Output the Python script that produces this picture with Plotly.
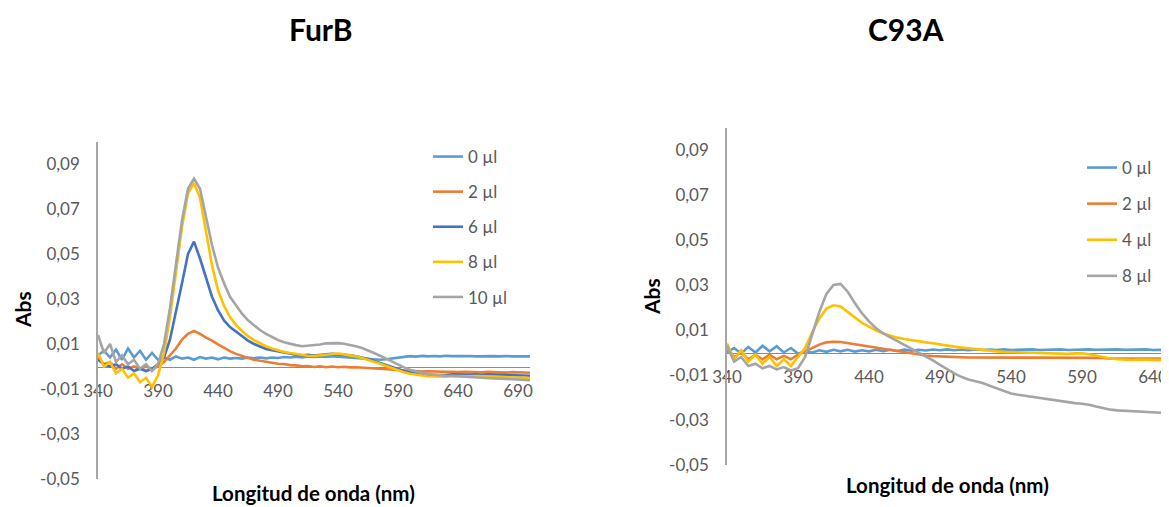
import plotly.graph_objects as go

# ---------------- data ----------------
wl_furb = list(range(340, 705, 5))
furb_0 = [0.005, 0.007, 0.004, 0.0075, 0.003, 0.008, 0.004, 0.007, 0.003, 0.006, 0.003, 0.004, 0.003, 0.0045,
          0.0035, 0.004, 0.003, 0.0042, 0.0035, 0.004, 0.0032, 0.004, 0.0035, 0.0038, 0.0035, 0.004, 0.0037,
          0.004, 0.0036, 0.004, 0.0038, 0.0042, 0.004, 0.0044, 0.004, 0.0045, 0.0042, 0.0045, 0.0043, 0.0046,
          0.0044, 0.0042, 0.004, 0.0038, 0.0036, 0.0034, 0.0032, 0.003, 0.0032, 0.0036, 0.004, 0.0044, 0.0046,
          0.0044, 0.0047, 0.0045, 0.0047, 0.0045, 0.0048, 0.0046, 0.0047, 0.0045, 0.0047, 0.0045, 0.0046,
          0.0044, 0.0046, 0.0045, 0.0047, 0.0045, 0.0046, 0.0044, 0.0045]
furb_2 = [0.004, 0.001, 0.002, -0.001, 0.001, -0.001, 0.0, -0.001, 0.0, -0.001, 0.0, 0.002, 0.005, 0.008,
          0.012, 0.0145, 0.0158, 0.0145, 0.0128, 0.0115, 0.0098, 0.0082, 0.0068, 0.0056, 0.0046, 0.0038,
          0.003, 0.0025, 0.0019, 0.0017, 0.0012, 0.0011, 0.0006, 0.0005, 0.0001, 0.0002, -0.0002, 0.0001,
          -0.0003, 0.0, -0.0003, -0.0001, -0.0004, -0.0003, -0.0005, -0.0004, -0.0007, -0.0008, -0.001,
          -0.0012, -0.0015, -0.0017, -0.0019, -0.002, -0.0022, -0.0021, -0.0023, -0.0022, -0.0024, -0.0023,
          -0.0025, -0.0023, -0.0025, -0.0024, -0.0026, -0.0024, -0.0026, -0.0025, -0.0027, -0.0025, -0.0027,
          -0.0026, -0.0028]
furb_6 = [0.003, 0.001, 0.0, 0.001, -0.001, 0.0, -0.002, -0.001, -0.002, -0.001, 0.001, 0.004, 0.012,
          0.024, 0.037, 0.05, 0.0555, 0.048, 0.039, 0.031, 0.025, 0.0205, 0.0175, 0.0155, 0.0135, 0.0115,
          0.01, 0.0088, 0.0078, 0.0072, 0.0067, 0.006, 0.0056, 0.0052, 0.005, 0.0052, 0.0049, 0.0053, 0.0054,
          0.0056, 0.0055, 0.0052, 0.005, 0.0045, 0.004, 0.0033, 0.0024, 0.0015, 0.0006, -0.0004, -0.0013,
          -0.002, -0.0027, -0.0032, -0.0036, -0.0038, -0.0039, -0.0037, -0.0038, -0.0035, -0.0036, -0.0034,
          -0.0036, -0.0035, -0.0037, -0.0035, -0.0036, -0.0037, -0.0039, -0.0038, -0.004, -0.0039, -0.0041]
furb_8 = [0.006, 0.0, 0.002, -0.003, -0.001, -0.005, -0.003, -0.007, -0.005, -0.009, -0.004, 0.006, 0.022,
          0.042, 0.062, 0.077, 0.0815, 0.075, 0.06, 0.045, 0.034, 0.027, 0.022, 0.0185, 0.0158, 0.0135,
          0.0117, 0.0102, 0.009, 0.008, 0.0072, 0.0065, 0.006, 0.0055, 0.005, 0.0048, 0.0047, 0.005, 0.0055,
          0.0058, 0.0058, 0.0054, 0.005, 0.0045, 0.0038, 0.003, 0.0022, 0.0012, 0.0002, -0.0008, -0.0018,
          -0.0026, -0.0032, -0.0037, -0.004, -0.0043, -0.0044, -0.0043, -0.0045, -0.0042, -0.0043, -0.0041,
          -0.0043, -0.0042, -0.0044, -0.0043, -0.0045, -0.0046, -0.0048, -0.0047, -0.005, -0.0049, -0.0051]
furb_10 = [0.014, 0.006, 0.01, 0.002, 0.005, 0.001, 0.003, -0.001, 0.001, -0.002, 0.001, 0.01, 0.026,
           0.046, 0.065, 0.079, 0.0835, 0.079, 0.067, 0.054, 0.044, 0.037, 0.031, 0.027, 0.0235, 0.0205,
           0.0182, 0.0162, 0.0145, 0.013, 0.0118, 0.0108, 0.01, 0.0095, 0.009, 0.0092, 0.0095, 0.0098,
           0.0103, 0.0105, 0.0104, 0.0101, 0.0096, 0.009, 0.0082, 0.0072, 0.006, 0.0048, 0.0035, 0.0021,
           0.0008, -0.0004, -0.0014, -0.0022, -0.0029, -0.0034, -0.0037, -0.004, -0.0041, -0.0042, -0.0044,
           -0.0045, -0.0047, -0.0048, -0.005, -0.0051, -0.0053, -0.0054, -0.0056, -0.0057, -0.0058, -0.006,
           -0.0061]

wl_c93a = list(range(340, 660, 5))
c93a_0 = [0.0, 0.002, -0.0005, 0.0025, 0.0, 0.003, 0.0005, 0.0028, 0.0, 0.002, -0.0005, 0.0005, 0.0, 0.001,
          0.0003, 0.0012, 0.0005, 0.0012, 0.0004, 0.001, 0.0005, 0.0012, 0.0006, 0.0012, 0.0007, 0.0013,
          0.0008, 0.0012, 0.0009, 0.0013, 0.001, 0.0014, 0.001, 0.0013, 0.001, 0.0014, 0.0011, 0.0013,
          0.0011, 0.0014, 0.0011, 0.0013, 0.0012, 0.0014, 0.0011, 0.0013, 0.0012, 0.0014, 0.0011, 0.0013,
          0.0012, 0.0014, 0.0012, 0.0013, 0.0011, 0.0014, 0.0012, 0.0013, 0.0012, 0.0014, 0.0011, 0.0013,
          0.0012, 0.0013]
c93a_2 = [0.002, -0.002, 0.0, -0.003, -0.001, -0.003, -0.001, -0.003, -0.0015, -0.003, -0.001, 0.0005,
          0.0022, 0.0035, 0.0045, 0.0048, 0.0047, 0.0042, 0.0036, 0.003, 0.0026, 0.0021, 0.0016, 0.0011,
          0.0006, 0.0001, -0.0004, -0.0009, -0.0013, -0.0016, -0.0018, -0.002, -0.0021, -0.0021, -0.0022,
          -0.0022, -0.0023, -0.0023, -0.0024, -0.0023, -0.0024, -0.0025, -0.0024, -0.0025, -0.0024, -0.0025,
          -0.0025, -0.0024, -0.0025, -0.0024, -0.0023, -0.0022, -0.0022, -0.0024, -0.0027, -0.0027, -0.0028,
          -0.0027, -0.0028, -0.0027, -0.0028, -0.0027, -0.0028, -0.0027]
c93a_4 = [0.004, -0.003, 0.001, -0.004, -0.001, -0.005, -0.002, -0.006, -0.003, -0.006, -0.002, 0.002,
          0.009, 0.015, 0.0195, 0.021, 0.0205, 0.018, 0.0155, 0.0132, 0.0115, 0.0098, 0.0085, 0.0074,
          0.0066, 0.006, 0.0054, 0.0049, 0.0045, 0.0041, 0.0035, 0.003, 0.0026, 0.0022, 0.0018, 0.0014,
          0.0011, 0.0008, 0.0005, 0.0003, 0.0002, 0.0001, 0.0, -0.0001, -0.0002, -0.0004, -0.0005, -0.0006,
          -0.0006, -0.0004, -0.0003, -0.0008, -0.0015, -0.0022, -0.0027, -0.003, -0.0032, -0.0033, -0.0031,
          -0.0033, -0.0032, -0.0034, -0.0033, -0.0034]
c93a_8 = [0.003, -0.004, -0.002, -0.006, -0.005, -0.007, -0.006, -0.0075, -0.0065, -0.008, -0.007, -0.002,
          0.008, 0.018, 0.026, 0.03, 0.0305, 0.027, 0.022, 0.0175, 0.0138, 0.0108, 0.0085, 0.0068, 0.0052,
          0.0035, 0.0018, 0.0, -0.0018, -0.0035, -0.0055, -0.0075, -0.0093, -0.0108, -0.012, -0.0128,
          -0.0136, -0.0148, -0.016, -0.0172, -0.0182, -0.0188, -0.0193, -0.0197, -0.0202, -0.0207, -0.0212,
          -0.0216, -0.022, -0.0225, -0.0228, -0.0232, -0.024, -0.0248, -0.0254, -0.0257, -0.0259, -0.0262,
          -0.0264, -0.0265, -0.0267, -0.0268, -0.027, -0.0271]

furb_names = ["0 µl", "2 µl", "6 µl", "8 µl", "10 µl"]
furb_series = [furb_0, furb_2, furb_6, furb_8, furb_10]
furb_colors = ["#5B9BD5", "#ED7D31", "#4472C4", "#FFC000", "#A5A5A5"]

c93a_names = ["0 µl", "2 µl", "4 µl", "8 µl"]
c93a_series = [c93a_0, c93a_2, c93a_4, c93a_8]
c93a_colors = ["#5B9BD5", "#ED7D31", "#FFC000", "#A5A5A5"]

x_ticks = [340, 390, 440, 490, 540, 590, 640, 690]
y_ticks = [-0.05, -0.03, -0.01, 0.01, 0.03, 0.05, 0.07, 0.09]
y_ticktext = ["-0,05", "-0,03", "-0,01", "0,01", "0,03", "0,05", "0,07", "0,09"]

titles = ["FurB", "C93A"]
x_title = "Longitud de onda (nm)"
y_title = "Abs"

# ---------------- figure ----------------
OFF = 8  # page body margin offset
W, H = 1169 - OFF, 507 - OFF
FONT = "Lato, Carlito, Calibri, sans-serif"
TICK_COLOR = "#595959"

fig = go.Figure()
for name, ys, col in zip(furb_names, furb_series, furb_colors):
    fig.add_trace(go.Scatter(x=wl_furb, y=ys, mode="lines", name=name,
                             line=dict(color=col, width=2.6), xaxis="x", yaxis="y",
                             legend="legend", legendgroup="a" + name))
for name, ys, col in zip(c93a_names, c93a_series, c93a_colors):
    fig.add_trace(go.Scatter(x=wl_c93a, y=ys, mode="lines", name=name,
                             line=dict(color=col, width=2.6), xaxis="x2", yaxis="y2",
                             legend="legend2", legendgroup="b" + name))

def px_x(p):
    return (p - OFF) / W

def px_y(p):
    return 1 - (p - OFF) / H

common_x = dict(tickvals=x_ticks, showgrid=False, zeroline=False, showline=True,
                linecolor="#8c8c8c", linewidth=1, ticks="", layer="below traces",
                tickfont=dict(family=FONT, size=17, color=TICK_COLOR),
                ticklabelstandoff=9, automargin=False)
common_y = dict(range=[-0.05, 0.1], tickvals=y_ticks, ticktext=y_ticktext, showgrid=False,
                zeroline=False, showline=True, linecolor="#a6a6a6", linewidth=1.5, ticks="",
                tickfont=dict(family=FONT, size=17, color=TICK_COLOR), ticklabelstandoff=13,
                automargin=False)

fig.update_layout(
    width=W, height=H,
    margin=dict(l=0, r=0, t=0, b=0, pad=0, autoexpand=False),
    paper_bgcolor="white", plot_bgcolor="rgba(0,0,0,0)",
    xaxis=dict(common_x, domain=[px_x(98), px_x(530)], range=[340, 700],
               anchor="free", position=px_y(367)),
    yaxis=dict(common_y, domain=[px_y(479), px_y(141.5)], anchor="x"),
    xaxis2=dict(common_x, domain=[px_x(727), 1.0], range=[340, 340 + (1169 - 727) / 1.42],
                anchor="free", position=px_y(352.5)),
    yaxis2=dict(common_y, domain=[px_y(465), px_y(127.5)], anchor="x2"),
    legend=dict(x=px_x(428), y=px_y(139), xanchor="left", yanchor="top",
                font=dict(family=FONT, size=17, color=TICK_COLOR),
                traceorder="grouped", tracegroupgap=10, bgcolor="rgba(0,0,0,0)"),
    legend2=dict(x=px_x(1082), y=px_y(150), xanchor="left", yanchor="top",
                 font=dict(family=FONT, size=17, color=TICK_COLOR),
                 traceorder="grouped", tracegroupgap=11, bgcolor="rgba(0,0,0,0)"),
    showlegend=True,
)

ann = []
for t, cx in zip(titles, [321, 906]):
    ann.append(dict(text="<b>%s</b>" % t, x=px_x(cx), y=px_y(29), xref="paper", yref="paper",
                    showarrow=False, xanchor="center", yanchor="middle",
                    font=dict(family=FONT, size=30, color="#000000")))
for cx, cy in [(313, 493), (947, 485)]:
    ann.append(dict(text="<b>%s</b>" % x_title, x=px_x(cx), y=px_y(cy), xref="paper", yref="paper",
                    showarrow=False, xanchor="center", yanchor="middle",
                    font=dict(family=FONT, size=20.5, color="#000000")))
for cx, cy in [(22, 310), (651, 297)]:
    ann.append(dict(text="<b>%s</b>" % y_title, x=px_x(cx), y=px_y(cy), xref="paper", yref="paper",
                    showarrow=False, xanchor="center", yanchor="middle", textangle=-90,
                    font=dict(family=FONT, size=21, color="#000000")))
fig.update_layout(annotations=ann)

fig.write_html("out.html")
